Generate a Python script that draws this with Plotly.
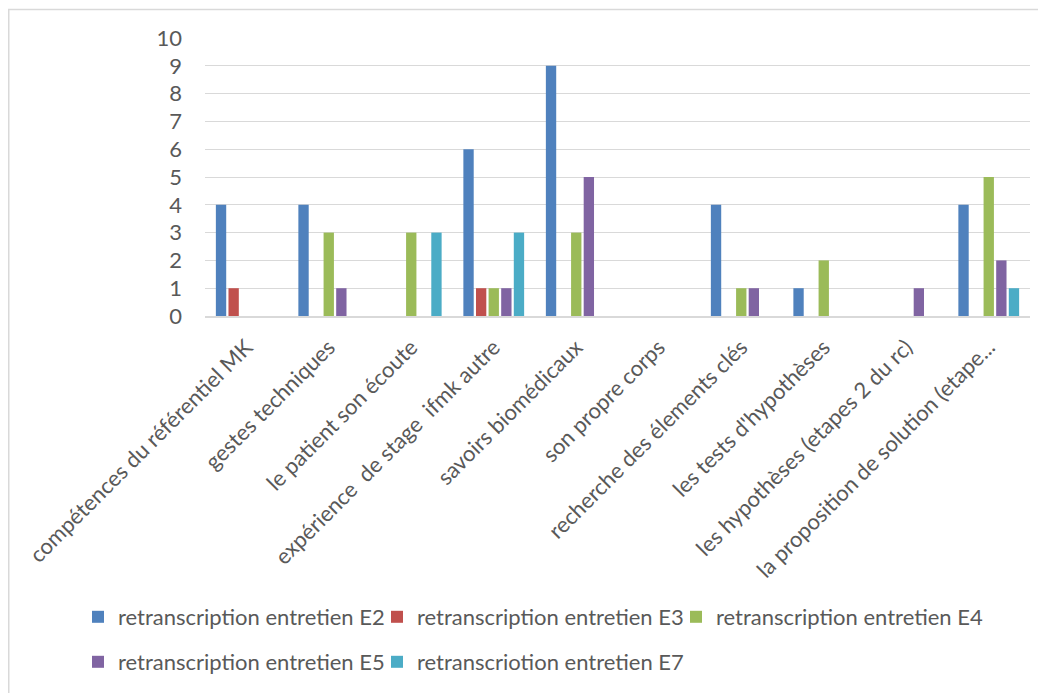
import plotly.graph_objects as go

categories = [
    "compétences du référentiel MK",
    "gestes techniques",
    "le patient son écoute",
    "expérience\u00a0 de stage\u00a0 ifmk autre",
    "savoirs biomédicaux",
    "son propre corps",
    "recherche des élements clés",
    "les tests d'hypothèses",
    "les hypothèses (etapes 2 du rc)",
    "la proposition de solution (etape...",
]
series_names = [
    "retranscription entretien E2",
    "retranscription entretien E3",
    "retranscription entretien E4",
    "retranscription entretien E5",
    "retranscriotion entretien E7",
]
e2 = [4, 4, None, 6, 9, None, 4, 1, None, 4]
e3 = [1, None, None, 1, None, None, None, None, None, None]
e4 = [None, 3, 3, 1, 3, None, 1, 2, None, 5]
e5 = [None, 1, None, 1, 5, None, 1, None, 1, 2]
e7 = [None, None, 3, 3, None, None, None, None, None, 1]
series_values = [e2, e3, e4, e5, e7]
colors = ["#4F81BD", "#C0504D", "#9BBB59", "#8064A2", "#4BACC6"]

W, H = 1046, 693
L, R, T, B = 197, 24, 30, 385
FONT = "Lato"
FS = 22
GREY = "#595959"

# legend placement (figure pixels): left x, centre y
legend_pos = [(70, 609), (369, 609), (668, 609), (70, 654), (369, 654)]
legend_ids = ["legend", "legend2", "legend3", "legend4", "legend5"]

fig = go.Figure()
for name, vals, col, lg in zip(series_names, series_values, colors, legend_ids):
    fig.add_trace(go.Bar(x=categories, y=vals, name=name, marker_color=col,
                         marker_line_width=0, legend=lg, showlegend=True))

pw, ph = W - L - R, H - T - B
def px_x(p):
    return (p - L) / pw
def px_y(p):
    return (H - B - p) / ph

legends = {}
for lg, (lx, ly) in zip(legend_ids, legend_pos):
    legends[lg] = dict(orientation="h", xref="container", yref="container",
                       x=lx / W, y=1 - ly / H, xanchor="left", yanchor="middle",
                       font=dict(family=FONT, size=FS, color=GREY),
                       bgcolor="rgba(0,0,0,0)", itemwidth=30, visible=True)

fig.update_layout(
    width=W, height=H,
    showlegend=True,
    margin=dict(l=L, r=R, t=T, b=B, autoexpand=False),
    paper_bgcolor="white", plot_bgcolor="white",
    barmode="group", bargap=0.236, bargroupgap=0.18,
    font=dict(family=FONT, size=FS, color=GREY),
    xaxis=dict(tickangle=-45, showgrid=False, showline=True, linecolor="#D9D9D9",
               linewidth=1.5, ticks="", tickfont=dict(family=FONT, size=FS, color=GREY),
               ticklabelstandoff=8),
    yaxis=dict(range=[0, 10], dtick=1, showgrid=True, gridcolor="#D9D9D9", gridwidth=1.3,
               zeroline=False, showline=False, ticks="",
               tickfont=dict(family=FONT, size=FS, color=GREY), ticklabelstandoff=22),
    shapes=[dict(type="rect", xref="paper", yref="paper",
                 x0=px_x(0.75), x1=px_x(W + 20), y0=px_y(H + 20), y1=px_y(1.5),
                 line=dict(color="#D9D9D9", width=1.5), fillcolor="rgba(0,0,0,0)",
                 layer="below")],
    **legends,
)

fig.write_html("out.html")
